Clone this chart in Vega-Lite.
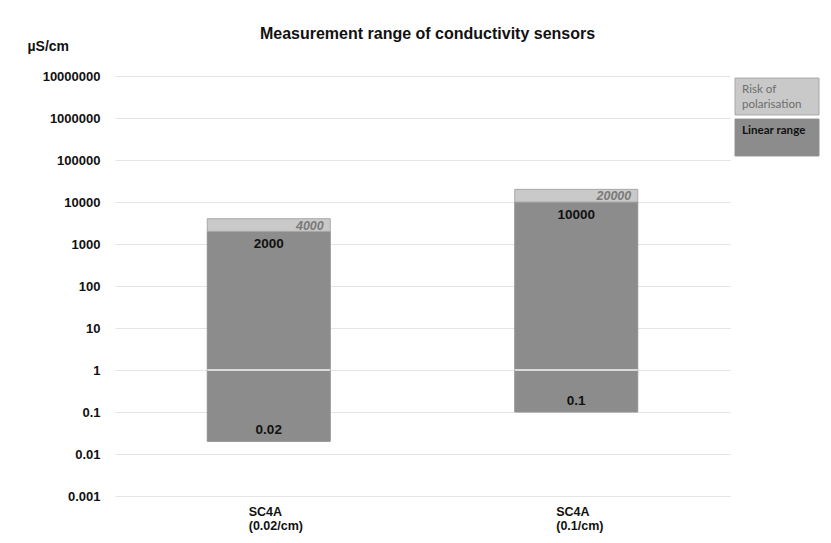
{
  "$schema": "https://vega.github.io/schema/vega-lite/v6.json",
  "background": "white",
  "padding": {"left": 27, "top": 26, "right": 5, "bottom": 5},
  "bounds": "flush",
  "spacing": 5,
  "config": {
    "view": {"stroke": null},
    "font": "Liberation Sans"
  },
  "datasets": {
    "ranges": [
      {"sensor": "SC4A (0.02/cm)", "segment": "Linear range", "low": 0.02, "high": 2000},
      {"sensor": "SC4A (0.02/cm)", "segment": "Risk of polarisation", "low": 2000, "high": 4000},
      {"sensor": "SC4A (0.1/cm)", "segment": "Linear range", "low": 0.1, "high": 10000},
      {"sensor": "SC4A (0.1/cm)", "segment": "Risk of polarisation", "low": 10000, "high": 20000}
    ],
    "legendItems": [
      {"segment": "Risk of polarisation", "label": "Risk of\npolarisation"},
      {"segment": "Linear range", "label": "Linear range"}
    ]
  },
  "hconcat": [
    {
      "width": 615,
      "height": 420,
      "title": {
        "text": "Measurement range of conductivity sensors",
        "font": "Liberation Sans",
        "fontSize": 16,
        "fontWeight": "bold",
        "color": "#111111",
        "anchor": "middle",
        "frame": "group",
        "dx": 5,
        "offset": -3
      },
      "data": {"name": "ranges"},
      "layer": [
        {
          "mark": {"type": "bar", "width": {"band": 0.4}, "strokeWidth": 1},
          "encoding": {
            "x": {
              "field": "sensor",
              "type": "nominal",
              "sort": null,
              "scale": {"paddingInner": 0, "paddingOuter": 0},
              "axis": {
                "title": null,
                "domain": false,
                "ticks": false,
                "labelAngle": 0,
                "labelAlign": "left",
                "labelOffset": -20,
                "labelPadding": 9,
                "labelFont": "Liberation Sans",
                "labelFontSize": 12.5,
                "labelFontWeight": "bold",
                "labelColor": "#111111",
                "labelLineHeight": 14,
                "labelExpr": "split(datum.label, ' ')"
              }
            },
            "y": {
              "field": "low",
              "type": "quantitative",
              "scale": {"type": "log", "domain": [0.001, 10000000], "nice": false},
              "axis": {
                "values": [0.001, 0.01, 0.1, 1, 10, 100, 1000, 10000, 100000, 1000000, 10000000],
                "format": "~f",
                "domain": false,
                "ticks": false,
                "grid": true,
                "gridColor": "#e4e4e4",
                "gridWidth": 1,
                "labelPadding": 15,
                "labelFont": "Liberation Sans",
                "labelFontSize": 13,
                "labelFontWeight": "bold",
                "labelColor": "#111111",
                "title": "µS/cm",
                "titleAngle": 0,
                "titleAlign": "left",
                "titleBaseline": "middle",
                "titleX": -88,
                "titleY": -30,
                "titleFont": "Liberation Sans",
                "titleFontSize": 14,
                "titleFontWeight": "bold",
                "titleColor": "#111111"
              }
            },
            "y2": {"field": "high"},
            "fill": {
              "field": "segment",
              "type": "nominal",
              "scale": {"domain": ["Linear range", "Risk of polarisation"], "range": ["#8c8c8c", "#c9c9c9"]},
              "legend": null
            },
            "stroke": {
              "field": "segment",
              "type": "nominal",
              "scale": {"domain": ["Linear range", "Risk of polarisation"], "range": ["#909090", "#a8a8a8"]},
              "legend": null
            }
          }
        },
        {
          "transform": [{"filter": "datum.segment === 'Linear range'"}],
          "mark": {"type": "tick", "color": "#f4f4f4", "size": 123, "thickness": 1.5, "opacity": 1},
          "encoding": {
            "x": {"field": "sensor", "type": "nominal", "sort": null},
            "y": {"datum": 1}
          }
        },
        {
          "transform": [{"filter": "datum.segment === 'Linear range'"}],
          "mark": {"type": "text", "baseline": "top", "dy": 6, "font": "Liberation Sans", "fontSize": 13.5, "fontWeight": "bold", "color": "#111111"},
          "encoding": {
            "x": {"field": "sensor", "type": "nominal", "sort": null},
            "y": {"field": "high", "type": "quantitative"},
            "text": {"field": "high", "type": "quantitative", "format": "~g"}
          }
        },
        {
          "transform": [{"filter": "datum.segment === 'Linear range'"}],
          "mark": {"type": "text", "baseline": "bottom", "dy": -4, "font": "Liberation Sans", "fontSize": 13.5, "fontWeight": "bold", "color": "#111111"},
          "encoding": {
            "x": {"field": "sensor", "type": "nominal", "sort": null},
            "y": {"field": "low", "type": "quantitative"},
            "text": {"field": "low", "type": "quantitative", "format": "~g"}
          }
        },
        {
          "transform": [{"filter": "datum.segment === 'Risk of polarisation'"}],
          "mark": {"type": "text", "baseline": "top", "align": "right", "dx": 55, "dy": 1, "font": "Liberation Sans", "fontSize": 12.5, "fontWeight": "bold", "fontStyle": "italic", "color": "#7a7a7a"},
          "encoding": {
            "x": {"field": "sensor", "type": "nominal", "sort": null},
            "y": {"field": "high", "type": "quantitative"},
            "text": {"field": "high", "type": "quantitative", "format": "~g"}
          }
        }
      ]
    },
    {
      "width": 84,
      "height": 82,
      "data": {"name": "legendItems"},
      "layer": [
        {
          "mark": {"type": "bar", "strokeWidth": 1},
          "encoding": {
            "y": {
              "field": "segment",
              "type": "nominal",
              "sort": ["Risk of polarisation", "Linear range"],
              "scale": {"paddingInner": 0.1, "paddingOuter": 0.05},
              "axis": null
            },
            "fill": {
              "field": "segment",
              "type": "nominal",
              "scale": {"domain": ["Linear range", "Risk of polarisation"], "range": ["#8c8c8c", "#c9c9c9"]},
              "legend": null
            },
            "stroke": {
              "field": "segment",
              "type": "nominal",
              "scale": {"domain": ["Linear range", "Risk of polarisation"], "range": ["#909090", "#a8a8a8"]},
              "legend": null
            }
          }
        },
        {
          "transform": [{"filter": "datum.segment === 'Risk of polarisation'"}],
          "mark": {"type": "text", "align": "left", "baseline": "top", "dx": 7, "dy": 6, "lineBreak": "\n", "lineHeight": 15, "font": "Lato", "fontSize": 11.6, "color": "#6e6e6e"},
          "encoding": {
            "x": {"datum": 0, "type": "quantitative", "scale": {"domain": [0, 1]}, "axis": null},
            "y": {"field": "segment", "type": "nominal", "sort": ["Risk of polarisation", "Linear range"], "bandPosition": 0},
            "text": {"field": "label"}
          }
        },
        {
          "transform": [{"filter": "datum.segment === 'Linear range'"}],
          "mark": {"type": "text", "align": "left", "baseline": "top", "dx": 7, "dy": 6, "lineBreak": "\n", "font": "Lato", "fontSize": 11.6, "fontWeight": "bold", "color": "#111111"},
          "encoding": {
            "x": {"datum": 0, "type": "quantitative", "scale": {"domain": [0, 1]}, "axis": null},
            "y": {"field": "segment", "type": "nominal", "sort": ["Risk of polarisation", "Linear range"], "bandPosition": 0},
            "text": {"field": "label"}
          }
        }
      ]
    }
  ]
}
